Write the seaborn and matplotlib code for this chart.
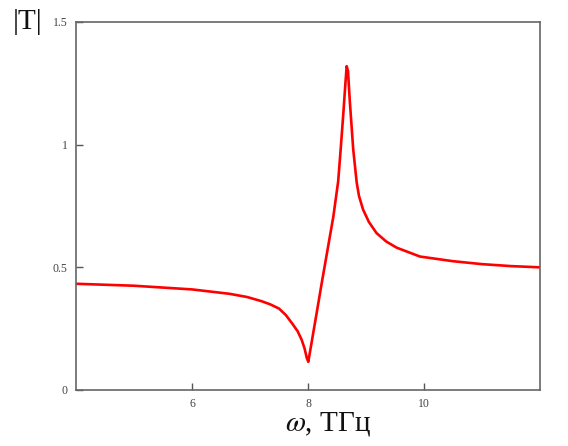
import matplotlib
matplotlib.use("Agg")
import matplotlib.pyplot as plt
import seaborn as sns
import pandas as pd

omega = [4.0, 5.0, 6.0, 6.65, 6.95, 7.2, 7.35, 7.5, 7.62, 7.74, 7.82, 7.89, 7.94, 7.98,
         8.005, 8.15, 8.236, 8.437, 8.52, 8.563, 8.61, 8.645, 8.667, 8.69, 8.72, 8.78,
         8.84, 8.88, 8.95, 9.05, 9.18, 9.35, 9.53, 9.93, 10.5, 11.0, 11.5, 12.0]
T = [0.433, 0.425, 0.41, 0.392, 0.379, 0.362, 0.349, 0.332, 0.305, 0.267, 0.24, 0.205,
     0.17, 0.13, 0.115, 0.315, 0.435, 0.707, 0.85, 0.98, 1.13, 1.25, 1.32, 1.30, 1.18,
     0.98, 0.845, 0.79, 0.735, 0.685, 0.64, 0.605, 0.58, 0.544, 0.525, 0.513, 0.505,
     0.50]
xticks = [6, 8, 10]
yticks = [0, 0.5, 1, 1.5]
ytick_labels = ["0", "0.5", "1", "1.5"]

df = pd.DataFrame({"omega": omega, "T": T})

sns.set_style("white")
plt.rcParams['font.family'] = ['Liberation Serif', 'DejaVu Serif']
plt.rcParams['mathtext.fontset'] = 'stix'
plt.rcParams['xtick.bottom'] = True
plt.rcParams['ytick.left'] = True

fig = plt.figure(figsize=(5.68, 4.46), dpi=100)
ax = fig.add_axes([76/568, 56/446, 464/568, 368/446])
sns.lineplot(data=df, x="omega", y="T", ax=ax, color="#ff0000", linewidth=1.9)
ax.set_xlim(4, 12)
ax.set_ylim(0, 1.5)
ax.set_xticks(xticks)
ax.set_xticklabels([str(t) for t in xticks])
ax.set_yticks(yticks)
ax.set_yticklabels(ytick_labels)
ax.tick_params(direction="in", length=5, width=1, color="#555555",
               labelsize=8.5, labelcolor="#444444", pad=6,
               bottom=True, left=True)
for s in ax.spines.values():
    s.set_color("#666666")
    s.set_linewidth(1.2)
ax.set_xlabel("")
ax.set_ylabel("")
fig.text(328/568, 1 - 424/446, r"$\omega$, ТГц", ha="center", va="center",
         fontsize=21, color="#111111")
fig.text(28/568, 1 - 22/446, "|T|", ha="center", va="center",
         fontsize=21, color="#111111")
fig.savefig("out.png", dpi=100, facecolor="white")
